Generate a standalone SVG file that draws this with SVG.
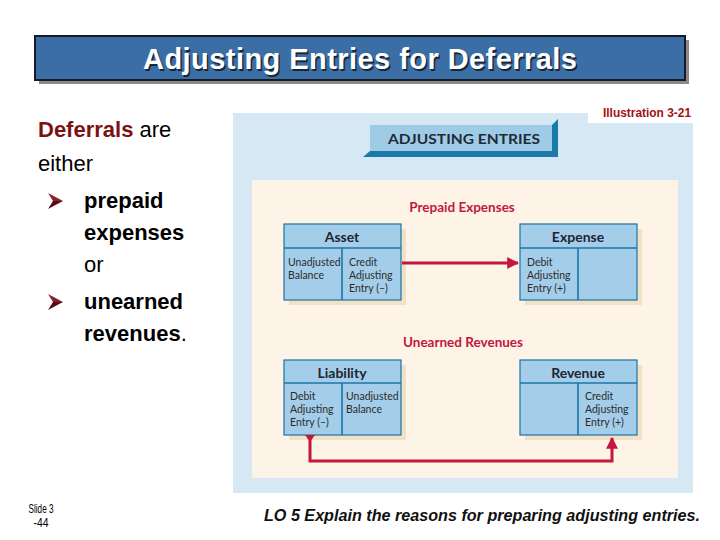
<svg xmlns="http://www.w3.org/2000/svg" width="720" height="540" viewBox="0 0 720 540">
<defs>
<style>
.tbox{fill:#a3cde8;stroke:#1c74a8;stroke-width:1.2}
.tline{stroke:#1c74a8;stroke-width:1.6;fill:none}
.tshadow{fill:#f1e2c6}
.thead{font-family:Lato,"Liberation Sans",sans-serif;font-weight:bold;font-size:14px;fill:#1e2530;text-anchor:middle}
.tcell{font-family:Lato,"Liberation Sans",sans-serif;font-size:10.5px;fill:#2c2c2c}
.sect{font-family:Lato,"Liberation Sans",sans-serif;font-weight:bold;font-size:13.5px;fill:#c3173f;text-anchor:middle}
.conn{stroke:#c3173f;stroke-width:3;fill:none}
.left{font-family:"Liberation Sans",Arial,sans-serif;font-size:22px;fill:#000}
.bul{font-family:"Liberation Sans",Arial,sans-serif;font-size:22px;font-weight:bold;fill:#000}
</style>
<marker id="ah" viewBox="0 0 10 10" refX="9" refY="5" markerWidth="4" markerHeight="4" orient="auto" markerUnits="strokeWidth">
<path d="M0,0 L10,5 L0,10 z" fill="#c3173f"/>
</marker>
<g id="bulletShape">
<polygon points="0,-8 15,0 5,0" fill="#8a2030"/>
<polygon points="5,0 15,0 0,8" fill="#5a0a14"/>
</g>
</defs>
<rect width="720" height="540" fill="#fff"/>

<g id="title">
<rect x="39" y="40" width="650" height="44" fill="#8a8a8a"/>
<rect x="35" y="36" width="650" height="44" fill="#3b6ea5" stroke="#141a28" stroke-width="2"/>
<text x="361.5" y="70.5" font-family="'Liberation Sans',Arial,sans-serif" font-weight="bold" font-size="29" fill="#1a2638" text-anchor="middle" textLength="434">Adjusting Entries for Deferrals</text>
<text x="360" y="69" font-family="'Liberation Sans',Arial,sans-serif" font-weight="bold" font-size="29" fill="#fff" text-anchor="middle" textLength="434">Adjusting Entries for Deferrals</text>
</g>

<g id="intro">
<text x="38" y="137" class="left"><tspan font-weight="bold" fill="#7a1212">Deferrals</tspan> are</text>
<text x="38" y="171" class="left">either</text>
<use href="#bulletShape" x="48" y="201"/>
<text x="84" y="208" class="bul">prepaid</text>
<text x="84" y="240" class="bul">expenses</text>
<text x="84" y="272" class="left">or</text>
<use href="#bulletShape" x="48" y="302"/>
<text x="84" y="309" class="bul">unearned</text>
<text x="84" y="341" class="bul">revenues<tspan font-weight="normal">.</tspan></text>
</g>

<g id="panel">
<rect x="233" y="113" width="460" height="380" fill="#d5e8f3"/>
<rect x="588" y="98" width="110" height="25" fill="#fff"/>
<text x="691" y="117" font-family="'Liberation Sans',Arial,sans-serif" font-weight="bold" font-size="12" fill="#a50f14" text-anchor="end" textLength="88" lengthAdjust="spacingAndGlyphs">Illustration 3-21</text>
<rect x="252" y="180" width="426" height="298" fill="#fdf3e6"/>
</g>

<g id="banner">
<polygon points="552,125 558,119 558,157 363,157 370,151 552,151" fill="#1a7aa8"/>
<rect x="370" y="125" width="182" height="26" fill="#9ecbe5"/>
<text x="464" y="144" font-family="Lato,'Liberation Sans',sans-serif" font-weight="bold" font-size="14" fill="#1f2a38" text-anchor="middle" textLength="152" lengthAdjust="spacingAndGlyphs">ADJUSTING ENTRIES</text>
</g>

<g id="label-prepaid"><text x="462" y="212" class="sect">Prepaid Expenses</text></g>
<g id="label-unearned"><text x="463" y="347" class="sect">Unearned Revenues</text></g>

<g id="asset">
<rect x="289" y="229" width="117" height="76" class="tshadow"/>
<rect x="284" y="224" width="117" height="76" class="tbox"/>
<line x1="284" y1="248" x2="401" y2="248" class="tline"/>
<line x1="342" y1="248" x2="342" y2="300" class="tline"/>
<text x="342" y="242" class="thead">Asset</text>
<text class="tcell"><tspan x="288" y="266">Unadjusted</tspan><tspan x="288" y="279">Balance</tspan></text>
<text class="tcell"><tspan x="349" y="266">Credit</tspan><tspan x="349" y="279">Adjusting</tspan><tspan x="349" y="292">Entry (–)</tspan></text>
</g>

<g id="expense">
<rect x="525" y="229" width="117" height="76" class="tshadow"/>
<rect x="520" y="224" width="117" height="76" class="tbox"/>
<line x1="520" y1="248" x2="637" y2="248" class="tline"/>
<line x1="578" y1="248" x2="578" y2="300" class="tline"/>
<text x="578" y="242" class="thead">Expense</text>
<text class="tcell"><tspan x="527" y="266">Debit</tspan><tspan x="527" y="279">Adjusting</tspan><tspan x="527" y="292">Entry (+)</tspan></text>
</g>

<g id="liability">
<rect x="289" y="365" width="117" height="75" class="tshadow"/>
<rect x="284" y="360" width="117" height="75" class="tbox"/>
<line x1="284" y1="383" x2="401" y2="383" class="tline"/>
<line x1="342" y1="383" x2="342" y2="435" class="tline"/>
<text x="342" y="378" class="thead">Liability</text>
<text class="tcell"><tspan x="290" y="400">Debit</tspan><tspan x="290" y="413">Adjusting</tspan><tspan x="290" y="426">Entry (–)</tspan></text>
<text class="tcell"><tspan x="346" y="400">Unadjusted</tspan><tspan x="346" y="413">Balance</tspan></text>
</g>

<g id="revenue">
<rect x="525" y="365" width="117" height="75" class="tshadow"/>
<rect x="520" y="360" width="117" height="75" class="tbox"/>
<line x1="520" y1="383" x2="637" y2="383" class="tline"/>
<line x1="578" y1="383" x2="578" y2="435" class="tline"/>
<text x="578" y="378" class="thead">Revenue</text>
<text class="tcell"><tspan x="585" y="400">Credit</tspan><tspan x="585" y="413">Adjusting</tspan><tspan x="585" y="426">Entry (+)</tspan></text>
</g>

<g id="connectors">
<line x1="402" y1="263" x2="518" y2="263" class="conn" marker-end="url(#ah)"/>
<polyline points="310,437 310,461 612,461 612,438" class="conn" marker-end="url(#ah)"/>
<polygon points="305,435 315,435 310,442" fill="#c3173f"/>
</g>

<g id="footer">
<text x="41" y="513" font-family="'Liberation Sans',Arial,sans-serif" font-size="12" fill="#000" text-anchor="middle" textLength="25" lengthAdjust="spacingAndGlyphs">Slide 3</text>
<text x="41" y="527" font-family="'Liberation Sans',Arial,sans-serif" font-size="12" fill="#000" text-anchor="middle" textLength="15" lengthAdjust="spacingAndGlyphs">-44</text>
<text x="264" y="521" font-family="'Liberation Sans',Arial,sans-serif" font-style="italic" font-weight="bold" font-size="16" fill="#111" textLength="436" lengthAdjust="spacingAndGlyphs">LO 5  Explain the reasons for preparing adjusting entries.</text>
</g>
</svg>
